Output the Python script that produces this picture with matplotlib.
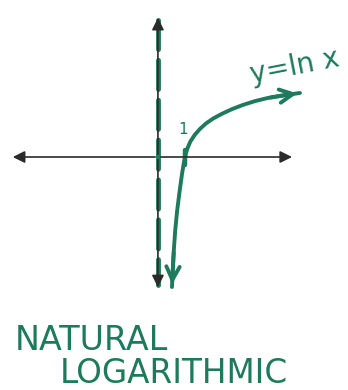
import numpy as np
import matplotlib
matplotlib.use('Agg')
import matplotlib.pyplot as plt

curve_x = [0.52, 0.55, 0.59, 0.64, 0.71, 0.80, 0.89, 0.96, 1.02, 1.09, 1.20, 1.37, 1.56, 1.78, 2.05, 2.37, 2.74, 3.15, 3.60, 4.07, 4.55, 5.26]
curve_y = [-3.37, -2.90, -2.40, -1.90, -1.40, -0.90, -0.45, -0.15, 0.05, 0.22, 0.40, 0.58, 0.73, 0.87, 1.00, 1.12, 1.24, 1.35, 1.45, 1.53, 1.59, 1.66]

# ejes
x_axis = [-5.48, 5.07]
y_axis = [3.68, -3.45]
asym = [3.55, -3.32]

verde = '#1e7a5c'
negro = '#2b2b2b'

fig = plt.figure(figsize=(3.48, 3.9), dpi=100)
ax = fig.add_axes([0, 0, 1, 1])
ax.set_xlim(-5.85, 7.04)
ax.set_ylim(-6.04, 4.07)
ax.axis('off')

# eje x con flechas
ax.annotate('', xy=(x_axis[0], 0), xytext=(0, 0),
            arrowprops=dict(arrowstyle='-|>', color=negro, lw=1.2, mutation_scale=18))
ax.annotate('', xy=(x_axis[1], 0), xytext=(0, 0),
            arrowprops=dict(arrowstyle='-|>', color=negro, lw=1.2, mutation_scale=18))
# eje y con flechas
ax.annotate('', xy=(0, y_axis[0]), xytext=(0, 0),
            arrowprops=dict(arrowstyle='-|>', color=negro, lw=1.2, mutation_scale=18))
ax.annotate('', xy=(0, y_axis[1]), xytext=(0, 0),
            arrowprops=dict(arrowstyle='-|>', color=negro, lw=1.2, mutation_scale=18))

# asíntota vertical x = 0
ax.plot([0, 0], asym, color=verde, lw=3.5, ls=(0, (6, 2.2)), solid_capstyle='round',
        dash_capstyle='round')

# curva
ax.plot(curve_x, curve_y, color=verde, lw=2.8, solid_capstyle='round', solid_joinstyle='round')
ax.annotate('', xy=(curve_x[-1], curve_y[-1]), xytext=(curve_x[-3], curve_y[-3]),
            arrowprops=dict(arrowstyle='->', color=verde, lw=2.8, mutation_scale=24))
ax.annotate('', xy=(curve_x[0], curve_y[0]), xytext=(curve_x[2], curve_y[2]),
            arrowprops=dict(arrowstyle='->', color=verde, lw=2.8, mutation_scale=24))

# marca en x = 1
ax.plot([1.0, 1.0], [-0.22, 0.18], color=verde, lw=3.2, solid_capstyle='round')
ax.text(0.95, 0.72, '1', color=verde, fontsize=11, ha='center', va='center')

ax.text(5.05, 2.35, 'y=ln x', color=verde, fontsize=20, ha='center', va='center', rotation=11)

ax.text(-5.30, -5.0, 'NATURAL', color=verde, fontsize=24, ha='left', va='baseline')
ax.text(-3.63, -5.85, 'LOGARITHMIC', color=verde, fontsize=23.5, ha='left', va='baseline')

plt.savefig('out.png', dpi=100)
